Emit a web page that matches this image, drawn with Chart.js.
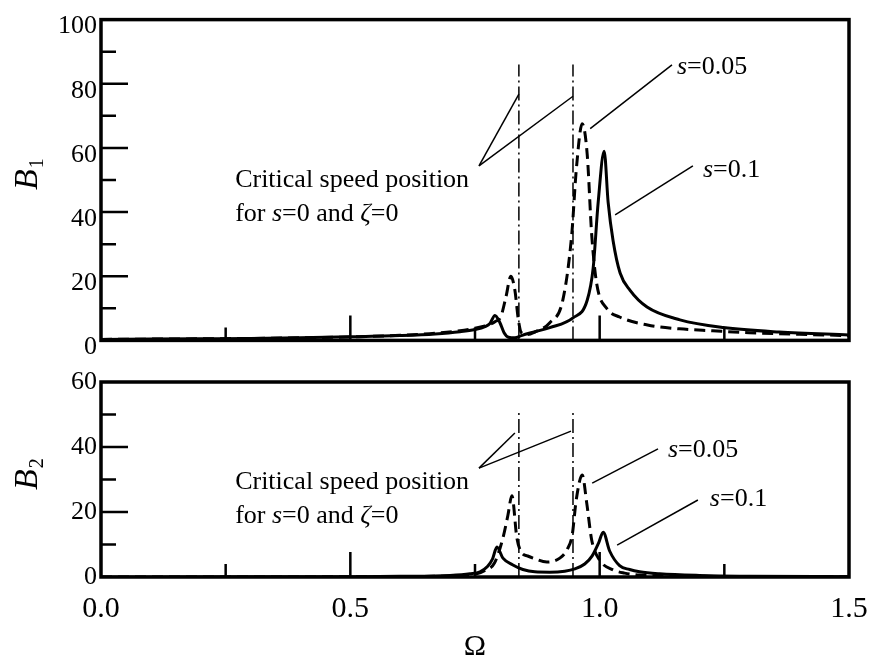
<!DOCTYPE html>
<html lang="en">
<head>
<meta charset="UTF-8">
<title>B1 and B2 against Omega</title>
<script src="https://cdn.jsdelivr.net/npm/chart.js"></script>
<style>
  body { margin: 0; background: #fff; }
  canvas { position: absolute; left: 0; }
  #topChart { top: 0; }
  #bottomChart { top: 360px; }
</style>
</head>
<body>
<canvas id="topChart" width="872" height="360"></canvas>
<canvas id="bottomChart" width="872" height="302"></canvas>
<script>
// ---- data ----
// upper panel, B1
const top01X  = [0, 0.1, 0.2, 0.3, 0.4, 0.5, 0.6, 0.67, 0.72, 0.75, 0.77, 0.78, 0.79, 0.80, 0.808, 0.817, 0.83, 0.843, 0.87, 0.9, 0.9465, 0.975, 0.987, 0.997, 1.009, 1.017, 1.027, 1.041, 1.061, 1.095, 1.161, 1.248, 1.36, 1.5];
const top01Y  = [0.3, 0.4, 0.5, 0.6, 0.8, 1.1, 1.5, 2.0, 2.7, 3.4, 4.3, 5.3, 7.8, 5.5, 2.5, 1.0, 0.8, 1.5, 2.7, 4.0, 7.0, 12.5, 22.6, 43, 59, 43, 31, 21, 15.6, 10.4, 6.4, 4.0, 2.6, 1.7];
const top005X = [0, 0.1, 0.2, 0.3, 0.4, 0.5, 0.6, 0.67, 0.72, 0.75, 0.77, 0.78, 0.79, 0.802, 0.812, 0.822, 0.83, 0.837, 0.843, 0.855, 0.87, 0.9, 0.926, 0.944, 0.953, 0.965, 0.975, 0.984, 0.994, 1.014, 1.04, 1.096, 1.16, 1.227, 1.3, 1.4, 1.5];
const top005Y = [0.3, 0.4, 0.5, 0.6, 0.8, 1.1, 1.6, 2.2, 3.0, 3.8, 4.5, 5.0, 5.8, 7.5, 13.5, 20, 15.6, 6.4, 2.4, 1.8, 2.6, 5.5, 12.5, 33, 53, 67.5, 58, 33, 17.7, 10, 7.3, 4.8, 3.6, 3.0, 2.4, 1.9, 1.5];

// lower panel, B2
const bot01X  = [0, 0.3, 0.5, 0.6, 0.7, 0.74, 0.76, 0.775, 0.785, 0.794, 0.806, 0.826, 0.846, 0.87, 0.9, 0.93, 0.95, 0.97, 0.985, 0.998, 1.007, 1.02, 1.04, 1.06, 1.08, 1.12, 1.2, 1.3, 1.5];
const bot01Y  = [0, 0.05, 0.1, 0.2, 0.5, 1.0, 1.6, 3.2, 5.5, 9.2, 5.8, 3.7, 2.3, 1.6, 1.5, 1.8, 2.5, 4.0, 6.5, 10.5, 13.8, 8, 3.5, 2.3, 1.6, 1.0, 0.5, 0.25, 0.1];
const bot005X = [0, 0.5, 0.7, 0.75, 0.77, 0.789, 0.806, 0.816, 0.824, 0.834, 0.844, 0.855, 0.867, 0.894, 0.92, 0.935, 0.945, 0.953, 0.965, 0.974, 0.984, 1.0, 1.027, 1.05, 1.08, 1.15, 1.3, 1.5];
const bot005Y = [0, 0.05, 0.3, 0.8, 2.0, 4.3, 12, 19, 25, 12, 7.4, 6.5, 5.8, 4.6, 5.8, 8.5, 13, 23.7, 31.4, 22.8, 11.4, 5.2, 2.2, 1.2, 0.6, 0.3, 0.15, 0.1];

// critical speed positions (s=0, zeta=0)
const criticalX = [0.838, 0.9465];
const criticalTopY = 86;
const criticalBotY = 51.7;

// ticks
const xMajorTicks = [0.5, 1.0];
const xMinorTicks = [0.25, 0.75, 1.25];
const topMajorTicks = [20, 40, 60, 80];
const topMinorTicks = [10, 30, 50, 70, 90];
const botMajorTicks = [20, 40];
const botMinorTicks = [10, 30, 50];

// leader lines [x1, y1, x2, y2] in data units
const topLeaders = [[0.758, 54.4, 0.838, 76.8], [0.758, 54.4, 0.9465, 76.1], [0.981, 66, 1.145, 85.9], [1.031, 39.1, 1.187, 54.4]];
const botLeaders = [[0.758, 33.5, 0.830, 44.3], [0.758, 33.5, 0.9425, 44.9], [0.985, 28.9, 1.117, 39.4], [1.035, 9.8, 1.197, 23.7]];

// text labels: position in data units, parts [text, italic]
const critLine1 = [['Critical speed position', false]];
const critLine2 = [['for ', false], ['s', true], ['=0 and ', false], ['\u03B6', true], ['=0', false]];
const s005 = [['s', true], ['=0.05', false]];
const s01 = [['s', true], ['=0.1', false]];
const topLabels = [{x: 0.269, y: 49.8, parts: critLine1}, {x: 0.269, y: 39.4, parts: critLine2}, {x: 1.155, y: 85.3, parts: s005}, {x: 1.207, y: 53.2, parts: s01}];
const botLabels = [{x: 0.269, y: 29.2, parts: critLine1}, {x: 0.269, y: 18.8, parts: critLine2}, {x: 1.137, y: 39.1, parts: s005}, {x: 1.221, y: 24, parts: s01}];

const serif = '"Liberation Serif", "Times New Roman", serif';

function pts(xs, ys) {
    return xs.map((x, i) => ({x: x, y: ys[i]}));
}

function curve(xs, ys, dashed) {
    return {
        data: pts(xs, ys),
        borderColor: '#000',
        borderWidth: 3,
        borderDash: dashed ? [11, 6] : [],
        pointRadius: 0,
        cubicInterpolationMode: 'monotone',
        fill: false
    };
}

function thinLine(points, dash) {
    return {
        data: points,
        borderColor: '#000',
        borderWidth: 1.5,
        borderDash: dash,
        pointRadius: 0,
        tension: 0,
        fill: false
    };
}

function buildDatasets(c01X, c01Y, c005X, c005Y, critTop, leaders) {
    const sets = [curve(c005X, c005Y, true), curve(c01X, c01Y, false)];
    criticalX.forEach(x => sets.push(thinLine([{x: x, y: 0}, {x: x, y: critTop}], [14, 4, 2, 4])));
    leaders.forEach(l => sets.push(thinLine([{x: l[0], y: l[1]}, {x: l[2], y: l[3]}], [])));
    return sets;
}

function drawRich(ctx, parts, x, y, size) {
    ctx.textBaseline = 'middle';
    ctx.textAlign = 'left';
    parts.forEach(p => {
        ctx.font = (p[1] ? 'italic ' : '') + size + 'px ' + serif;
        ctx.fillText(p[0], x, y);
        x += ctx.measureText(p[0]).width;
    });
}

// frame, inward ticks, axis title and labels
const decor = {
    id: 'decor',
    afterDatasetsDraw(chart, args, opts) {
        const ctx = chart.ctx, a = chart.chartArea;
        const xs = chart.scales.x, ys = chart.scales.y;
        ctx.save();
        ctx.strokeStyle = '#000';
        ctx.fillStyle = '#000';
        ctx.lineWidth = 2.5;
        ctx.beginPath();
        xMajorTicks.forEach(v => { const p = xs.getPixelForValue(v); ctx.moveTo(p, a.bottom); ctx.lineTo(p, a.bottom - 25); });
        xMinorTicks.forEach(v => { const p = xs.getPixelForValue(v); ctx.moveTo(p, a.bottom); ctx.lineTo(p, a.bottom - 13); });
        opts.major.forEach(v => { const p = ys.getPixelForValue(v); ctx.moveTo(a.left, p); ctx.lineTo(a.left + 27, p); });
        opts.minor.forEach(v => { const p = ys.getPixelForValue(v); ctx.moveTo(a.left, p); ctx.lineTo(a.left + 15, p); });
        ctx.stroke();
        ctx.lineWidth = 3.5;
        ctx.strokeRect(a.left, a.top, a.right - a.left, a.bottom - a.top);

        // rotated axis title, italic B with upright subscript
        ctx.save();
        ctx.translate(37, opts.titleY);
        ctx.rotate(-Math.PI / 2);
        ctx.textBaseline = 'alphabetic';
        ctx.textAlign = 'left';
        ctx.font = 'italic 34px ' + serif;
        ctx.fillText('B', 0, 0);
        const w = ctx.measureText('B').width;
        ctx.font = '20px ' + serif;
        ctx.fillText(opts.sub, w + 1, 6);
        ctx.restore();

        opts.labels.forEach(l => drawRich(ctx, l.parts, xs.getPixelForValue(l.x), ys.getPixelForValue(l.y), 26));
        ctx.restore();
    }
};

Chart.register(decor);

function yScale(max, offset) {
    return {
        type: 'linear',
        min: 0,
        max: max,
        grid: { display: false, drawTicks: false },
        border: { display: false },
        ticks: {
            stepSize: 20,
            padding: 4,
            labelOffset: offset,
            color: '#000',
            font: { family: serif, size: 26 }
        },
        afterFit: s => { s.width = 101; }
    };
}

new Chart(document.getElementById('topChart'), {
    type: 'line',
    data: { datasets: buildDatasets(top01X, top01Y, top005X, top005Y, criticalTopY, topLeaders) },
    options: {
        responsive: false,
        animation: false,
        devicePixelRatio: 1,
        layout: { padding: { top: 14, right: 23, bottom: 19, left: 0 } },
        plugins: {
            legend: { display: false },
            tooltip: { enabled: false },
            decor: { major: topMajorTicks, minor: topMinorTicks, labels: topLabels, sub: '1', titleY: 190 }
        },
        scales: {
            x: { type: 'linear', min: 0, max: 1.5, display: false },
            y: yScale(100, 7)
        }
    }
});

new Chart(document.getElementById('bottomChart'), {
    type: 'line',
    data: { datasets: buildDatasets(bot01X, bot01Y, bot005X, bot005Y, criticalBotY, botLeaders) },
    options: {
        responsive: false,
        animation: false,
        devicePixelRatio: 1,
        layout: { padding: { top: 22, right: 23, bottom: 0, left: 0 } },
        plugins: {
            legend: { display: false },
            tooltip: { enabled: false },
            decor: { major: botMajorTicks, minor: botMinorTicks, labels: botLabels, sub: '2', titleY: 130 }
        },
        scales: {
            x: {
                type: 'linear',
                min: 0,
                max: 1.5,
                grid: { display: false, drawTicks: false },
                border: { display: false },
                ticks: {
                    stepSize: 0.5,
                    padding: 14,
                    maxRotation: 0,
                    color: '#000',
                    font: { family: serif, size: 30 },
                    callback: v => v.toFixed(1)
                },
                title: {
                    display: true,
                    text: '\u03A9',
                    color: '#000',
                    font: { family: serif, size: 30, lineHeight: 1 },
                    padding: 0
                },
                afterFit: s => { s.height = 85; s.paddingLeft = 0; s.paddingRight = 0; }
            },
            y: yScale(60, 0)
        }
    }
});
</script>
</body>
</html>
